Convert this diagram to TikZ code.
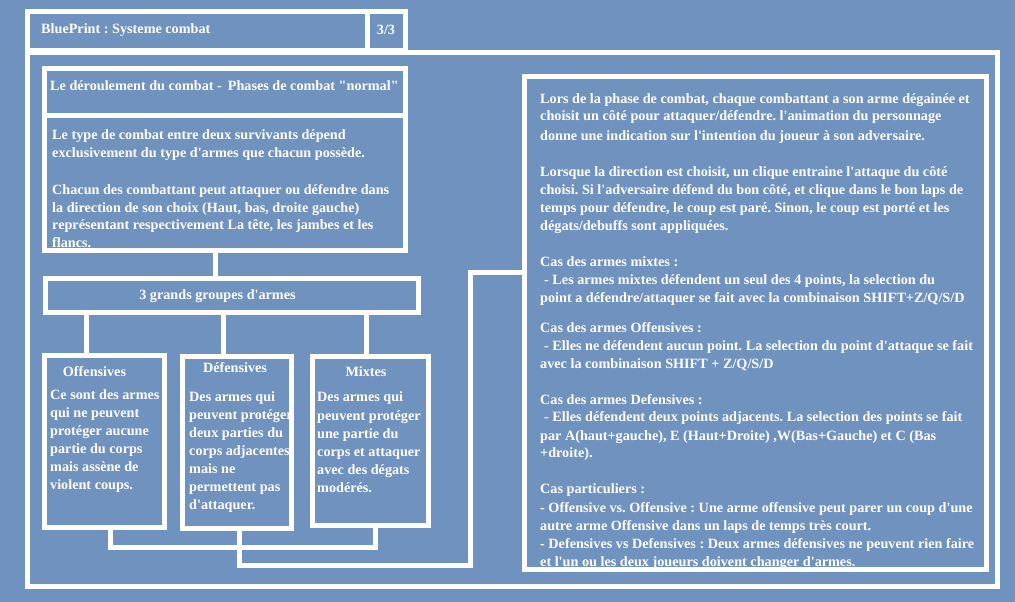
\documentclass[tikz,border=0pt]{standalone}
\usepackage{fontspec}
\setmainfont{Liberation Serif}[Ligatures=TeXOff]
\definecolor{bg}{RGB}{112,146,190}
\tikzset{
  box/.style={draw=white, line width=5pt, inner sep=0pt, outer sep=0pt, rectangle},
  conn/.style={draw=white, line width=5pt},
  txt/.style={text=white, inner sep=0pt, anchor=base west, font=\fontsize{14.2}{18}\selectfont\bfseries\frenchspacing},
  ctxt/.style={txt, anchor=base},
}
\begin{document}
\frenchspacing
\begin{tikzpicture}[x=1pt,y=-1pt]
\fill[bg] (0,0) rectangle (1015,602);
\useasboundingbox (0,0) rectangle (1015,602);

% texts
\node[txt] (ttl) at (41,34) {BluePrint : Systeme combat};
\node[ctxt] (pg) at (386,35) {3/3};
\node[txt] (hdrt) at (50,91) {Le déroulement du combat -\hspace{6pt}Phases de combat "normal"};

\node[txt] (i1) at (52,139) {Le type de combat entre deux survivants dépend};
\node[txt] (i2) at (52,157) {exclusivement du type d'armes que chacun possède.};
\node[txt] (i3) at (52,194) {Chacun des combattant peut attaquer ou défendre dans};
\node[txt] (i4) at (52,212) {la direction de son choix (Haut, bas, droite gauche)};
\node[txt] (i5) at (52,229) {représentant respectivement La tête, les jambes et les};
\node[txt] (i6) at (52,247) {flancs.};

\node[ctxt] (grt) at (217.5,299) {3 grands groupes d'armes};

\node[ctxt] (oh) at (94.5,376) {Offensives};
\node[txt] (o1) at (50,399) {Ce sont des armes};
\node[txt] (o2) at (50,417) {qui ne peuvent};
\node[txt] (o3) at (50,435) {protéger aucune};
\node[txt] (o4) at (50,453) {partie du corps};
\node[txt] (o5) at (50,471) {mais assène de};
\node[txt] (o6) at (50,489) {violent coups.};

\node[ctxt] (dh) at (235,372) {Défensives};
\node[txt] (d1) at (189,401) {Des armes qui};
\node[txt] (d2) at (189,419) {peuvent protéger};
\node[txt] (d3) at (189,437) {deux parties du};
\node[txt] (d4) at (189,455) {corps adjacentes};
\node[txt] (d5) at (189,473) {mais ne};
\node[txt] (d6) at (189,491) {permettent pas};
\node[txt] (d7) at (189,509) {d'attaquer.};

\node[ctxt] (mh) at (366,376) {Mixtes};
\node[txt] (m1) at (317,401) {Des armes qui};
\node[txt] (m2) at (317,420) {peuvent protéger};
\node[txt] (m3) at (317,438) {une partie du};
\node[txt] (m4) at (317,456) {corps et attaquer};
\node[txt] (m5) at (317,474) {avec des dégats};
\node[txt] (m6) at (317,492) {modérés.};

\node[txt] (r1) at (540,103) {Lors de la phase de combat, chaque combattant a son arme dégainée et};
\node[txt] (r2) at (540,121) {choisit un côté pour attaquer/défendre. l'animation du personnage};
\node[txt] (r3) at (540,140) {donne une indication sur l'intention du joueur à son adversaire.};
\node[txt] (r4) at (540,176) {Lorsque la direction est choisit, un clique entraine l'attaque du côté};
\node[txt] (r5) at (540,194) {choisi. Si l'adversaire défend du bon côté, et clique dans le bon laps de};
\node[txt] (r6) at (540,212) {temps pour défendre, le coup est paré. Sinon, le coup est porté et les};
\node[txt] (r7) at (540,230) {dégats/debuffs sont appliquées.};
\node[txt] (r8) at (540,266) {Cas des armes mixtes :};
\node[txt] (r9) at (540,284) {\hspace{4pt}- Les armes mixtes défendent un seul des 4 points, la selection du};
\node[txt] (r10) at (540,302) {point a défendre/attaquer se fait avec la combinaison SHIFT+Z/Q/S/D};
\node[txt] (r11) at (540,332) {Cas des armes Offensives :};
\node[txt] (r12) at (540,350) {\hspace{4pt}- Elles ne défendent aucun point. La selection du point d'attaque se fait};
\node[txt] (r13) at (540,368) {avec la combinaison SHIFT + Z/Q/S/D};
\node[txt] (r14) at (540,404) {Cas des armes Defensives :};
\node[txt] (r15) at (540,421) {\hspace{4pt}- Elles défendent deux points adjacents. La selection des points se fait};
\node[txt] (r16) at (540,440) {par A(haut+gauche), E (Haut+Droite) ,W(Bas+Gauche) et C (Bas};
\node[txt] (r17) at (540,457) {+droite).};
\node[txt] (r18) at (540,493) {Cas particuliers :};
\node[txt] (r19) at (540,512) {- Offensive vs. Offensive : Une arme offensive peut parer un coup d'une};
\node[txt] (r20) at (540,530) {autre arme Offensive dans un laps de temps très court.};
\node[txt] (r21) at (540,548) {- Defensives vs Defensives : Deux armes défensives ne peuvent rien faire};
\node[txt] (r22) at (540,566) {et l'un ou les deux joueurs doivent changer d'armes.};

% boxes
\node[box, minimum width=340pt, minimum height=39pt] (title) at (197.5,31) {};
\node[box, minimum width=38pt, minimum height=39pt] (page) at (386.5,31) {};
\node[box, minimum width=970pt, minimum height=534pt] (main) at (512.5,319.5) {};
\node[box, minimum width=361pt, minimum height=47pt] (hdr) at (225,92) {};
\node[box, minimum width=361pt, minimum height=134.5pt] (intro) at (225,182.75) {};
\node[box, minimum width=373pt, minimum height=34pt] (groups) at (232,295.5) {};
\node[box, minimum width=120pt, minimum height=172pt] (off) at (104.5,441.5) {};
\node[box, minimum width=109pt, minimum height=172pt] (def) at (237,442.5) {};
\node[box, minimum width=116pt, minimum height=169pt] (mix) at (370.5,441) {};
\node[box, minimum width=462pt, minimum height=493pt] (right) at (755.5,323) {};

% connectors
\coordinate (c0) at (215,0);
\coordinate (c1) at (86.5,0);
\coordinate (c2) at (223.5,0);
\coordinate (c3) at (366.5,0);
\coordinate (b1) at (110.5,547.5);
\coordinate (b2) at (375.5,547.5);
\coordinate (b3) at (239.5,565.5);
\coordinate (b4) at (470.5,565.5);
\coordinate (b5) at (470.5,272);
\draw[conn] (c0 |- intro.south) -- (c0 |- groups.north);
\draw[conn] (c1 |- groups.south) -- (c1 |- off.north);
\draw[conn] (c2 |- groups.south) -- (c2 |- def.north);
\draw[conn] (c3 |- groups.south) -- (c3 |- mix.north);
\draw[conn] (b1 |- off.south) -- (b1) -- (b2) -- (b2 |- mix.south);
\draw[conn] (b3 |- def.south) -- (b3) -- (b4) -- (b5) -- (b5 -| right.west);
\end{tikzpicture}
\end{document}
